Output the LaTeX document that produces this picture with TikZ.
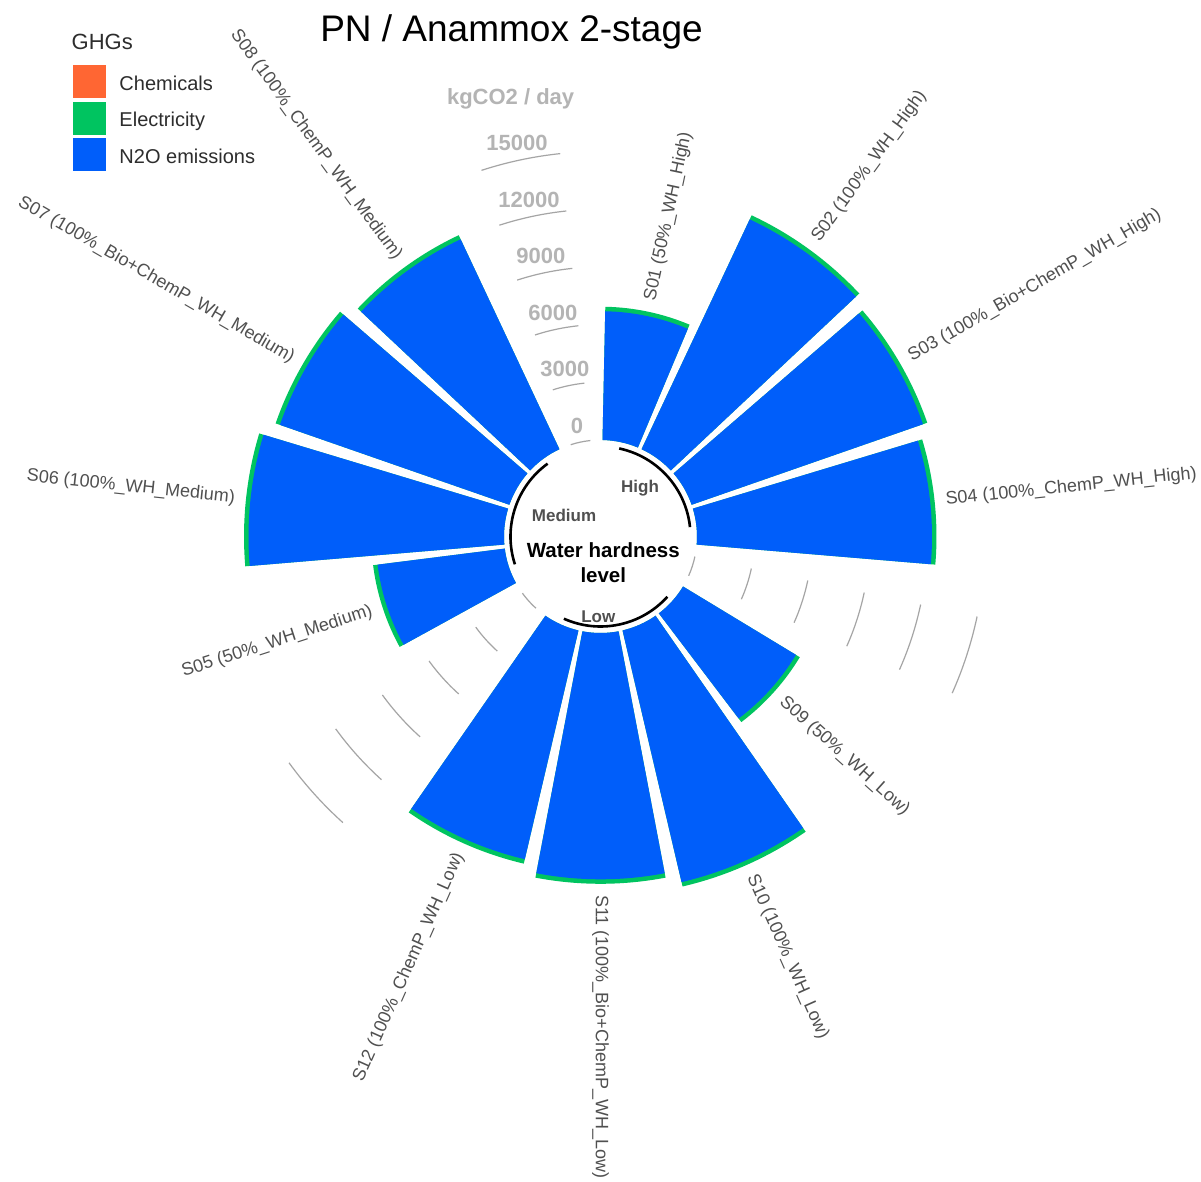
\documentclass[tikz,border=0pt]{standalone}
\usepackage{fontspec}
\setmainfont{Liberation Sans}

\definecolor{chemcol}{RGB}{255,102,51}
\definecolor{eleccol}{RGB}{0,196,96}
\definecolor{ntwocol}{RGB}{0,94,250}
\definecolor{labgrey}{RGB}{80,80,80}
\definecolor{axgrey}{RGB}{180,180,180}
\definecolor{gridgrey}{RGB}{165,165,165}
\definecolor{legtext}{RGB}{45,45,45}

\tikzset{
  barlab/.style={font=\fontsize{18}{20}\selectfont, text=labgrey, inner sep=0pt},
  axlab/.style={font=\fontsize{22}{24}\selectfont\bfseries, text=axgrey, inner sep=0pt},
  gridline/.style={draw=gridgrey, line width=1.2pt},
  grouparc/.style={draw=black, line width=2.6pt},
  grouplab/.style={font=\fontsize{17}{19}\selectfont\bfseries, text=labgrey, inner sep=0pt},
  legbox/.style={inner sep=0pt, minimum width=33.3pt, minimum height=33pt},
  legtxt/.style={font=\fontsize{20}{22}\selectfont, text=legtext, inner sep=0pt, anchor=base west},
}

% inner radius of the bars (value 0) and radius per 1000 kgCO2/day
\newcommand\rin{96.5}
\newcommand\rperk{19.233}

% one bar: slot number, outer radius, label text
\newcommand\gbar[3]{%
  \pgfmathsetmacro\aA{90-(#1-1)*24-1.2}%
  \pgfmathsetmacro\aB{90-#1*24+1.2}%
  \pgfmathsetmacro\rB{#2-4.5}%
  \fill[eleccol] (\aA:\rin) -- (\aA:#2) arc[start angle=\aA, end angle=\aB, radius=#2]
     -- (\aB:\rin) arc[start angle=\aB, end angle=\aA, radius=\rin] -- cycle;
  \fill[ntwocol] (\aA:\rin) -- (\aA:\rB) arc[start angle=\aA, end angle=\aB, radius=\rB]
     -- (\aB:\rin) arc[start angle=\aB, end angle=\aA, radius=\rin] -- cycle;
  \pgfmathsetmacro\thc{(#1-0.5)*24}%
  \pgfmathsetmacro\phc{90-\thc}%
  \pgfmathsetmacro\rL{#2+11}%
  \ifdim\thc pt>180pt
    \pgfmathsetmacro\barrot{\phc+180}%
    \node[barlab, anchor=east, rotate=\barrot] (lab#1) at (\phc:\rL) {#3};
  \else
    \node[barlab, anchor=west, rotate=\phc] (lab#1) at (\phc:\rL) {#3};
  \fi
}

\begin{document}
\begin{tikzpicture}[x=1pt, y=1pt]
  % page frame in image coordinates (y pointing down)
  \begin{scope}[shift={(-600.5,536.5)}, y=-1pt]
    \fill[white] (0,0) rectangle (1201,1181);
    \useasboundingbox (0,0) rectangle (1201,1181);
  \end{scope}

  % grid arcs in the three empty slots, tick values above the top one
  \foreach \k/\v in {0/0,3/3000,6/6000,9/9000,12/12000,15/15000} {
    \pgfmathsetmacro\rg{\rin+\k*\rperk}
    \foreach \c in {-18,-138,102} {
      \pgfmathsetmacro\ca{\c+6}
      \pgfmathsetmacro\cb{\c-6}
      \draw[gridline] (\ca:\rg) arc[start angle=\ca, end angle=\cb, radius=\rg];
    }
    \pgfmathsetmacro\rl{\rg+17}
    \node[axlab] (ax\k) at (102:\rl) {\v};
  }
  \node[axlab] (axtitle) at (101.6:447) {kgCO2 / day};

  % bars, High group
  \gbar{1}{229.8}{S01 (50\%\_WH\_High)}
  \gbar{2}{355}{S02 (100\%\_WH\_High)}
  \gbar{3}{346}{S03 (100\%\_Bio+ChemP\_WH\_High)}
  \gbar{4}{336}{S04 (100\%\_ChemP\_WH\_High)}
  % bars, Low group
  \gbar{6}{233}{S09 (50\%\_WH\_Low)}
  \gbar{7}{359.5}{S10 (100\%\_WH\_Low)}
  \gbar{8}{347.3}{S11 (100\%\_Bio+ChemP\_WH\_Low)}
  \gbar{9}{336}{S12 (100\%\_ChemP\_WH\_Low)}
  % bars, Medium group
  \gbar{11}{229.2}{S05 (50\%\_WH\_Medium)}
  \gbar{12}{356.5}{S06 (100\%\_WH\_Medium)}
  \gbar{13}{344}{S07 (100\%\_Bio+ChemP\_WH\_Medium)}
  \gbar{14}{333}{S08 (100\%\_ChemP\_WH\_Medium)}

  % group arcs
  \draw[grouparc] (78:90) arc[start angle=78, end angle=6, radius=90];
  \draw[grouparc] (-42:90) arc[start angle=-42, end angle=-114, radius=90];
  \draw[grouparc] (-162:90) arc[start angle=-162, end angle=-234, radius=90];

  \begin{scope}[shift={(-600.5,536.5)}, y=-1pt]
    % group labels and centre caption
    \node[grouplab] (ghigh) at (640,488.3) {High};
    \node[grouplab] (gmed) at (564,515) {Medium};
    \node[grouplab] (glow) at (598.3,616.7) {Low};
    \node[font=\fontsize{20.5}{25}\selectfont\bfseries, align=center, inner sep=0pt]
      (centre) at (603.3,562.5) {Water hardness\\level};

    % title
    \node[font=\fontsize{37}{42}\selectfont, anchor=base, inner sep=0pt] (title) at (511.5,42) {PN / Anammox 2-stage};

    % legend
    \node[font=\fontsize{22}{24}\selectfont, text=legtext, anchor=base west, inner sep=0pt] (legtitle) at (71.5,50) {GHGs};
    \node[legbox, fill=chemcol, anchor=north west] (kchem) at (72.7,65) {};
    \node[legbox, fill=eleccol, anchor=north west] (kelec) at (72.7,101.7) {};
    \node[legbox, fill=ntwocol, anchor=north west] (kntwo) at (72.7,138.3) {};
    \node[legtxt] (tchem) at (119.3,90.5) {Chemicals};
    \node[legtxt] (telec) at (119.3,127) {Electricity};
    \node[legtxt] (tntwo) at (119.3,163.7) {N2O emissions};
  \end{scope}
\end{tikzpicture}
\end{document}
